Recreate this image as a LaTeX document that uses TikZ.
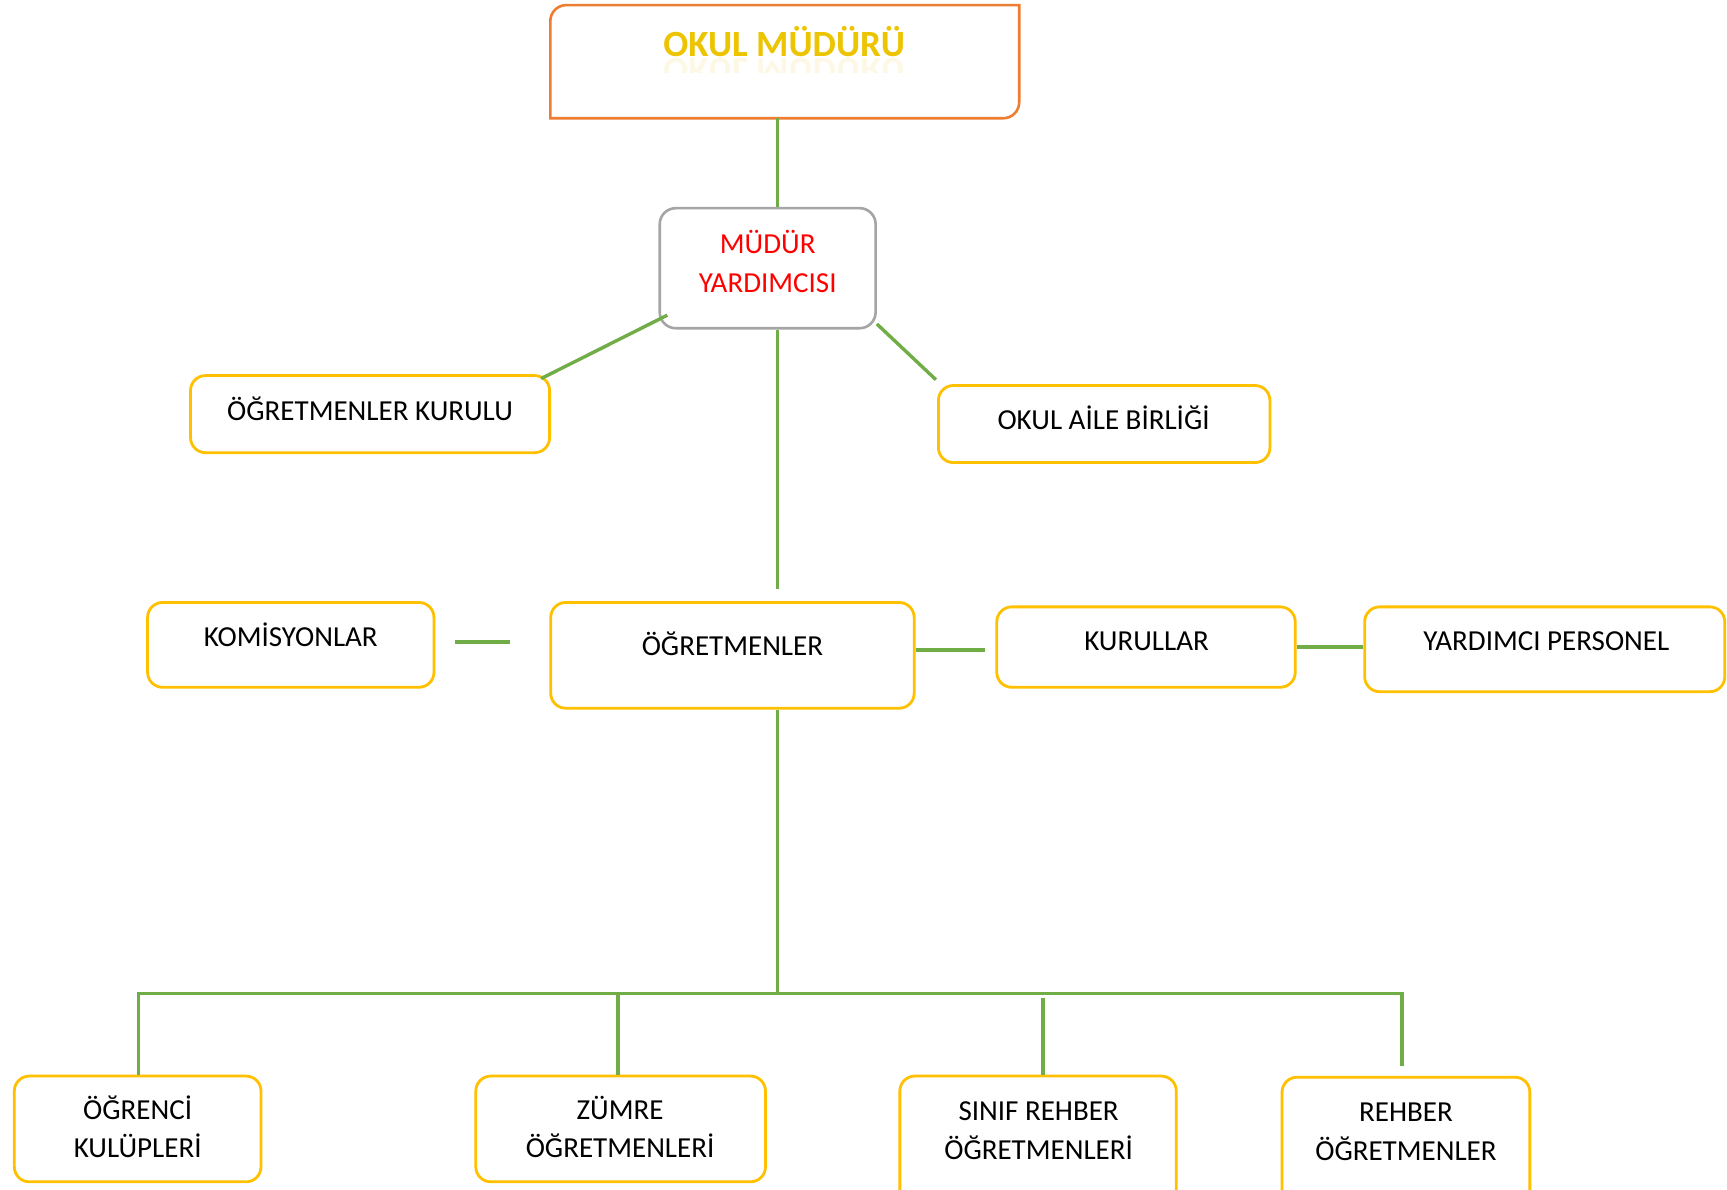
\documentclass[tikz,border=0pt]{standalone}
\usepackage{fontspec}
\setmainfont{Carlito}
\usetikzlibrary{fit,calc}
\definecolor{boxyellow}{HTML}{FFC000}
\definecolor{lineg}{HTML}{70AD47}
\definecolor{omorange}{HTML}{ED7D31}
\definecolor{mygray}{HTML}{A5A5A5}
\definecolor{omtext}{RGB}{236,196,0}
\newcommand\mystrut{\rule[-5pt]{0pt}{19.2pt}}
\begin{document}
\begin{tikzpicture}[x=0.5507pt,y=-0.5507pt,
  ybox/.style={draw=boxyellow, line width=1.4pt, rounded corners=7.5pt, inner sep=0pt},
  gbox/.style={draw=mygray, line width=1.3pt, rounded corners=8pt, inner sep=0pt},
  conn/.style={draw=lineg, line width=1.7pt},
  lbl/.style={inner sep=0pt, font=\fontsize{14.5}{19.4}\selectfont, align=center},
  omfont/.style={inner sep=0pt, anchor=base, font=\fontsize{18.5}{22}\selectfont\bfseries, text=omtext},
]
\path[use as bounding box, fill=white] (0,0) rectangle (1568,1080);
\clip (0,0) rectangle (1568,1080);

% top box
\node[fit={(500,5) (925,107)}, inner sep=0pt] (om) {};
\draw[draw=omorange, line width=1.3pt] (om.south west) -- ([yshift=-8pt]om.north west)
  arc[start angle=180,end angle=90,radius=8pt] -- (om.north east)
  -- ([yshift=8pt]om.south east) arc[start angle=0,end angle=-90,radius=8pt] -- cycle;
\node[omfont] (omt) at (712,51.5) {OKUL MÜDÜRÜ};
\begin{scope}
  \clip (590,52) rectangle (840,66);
  \node[omfont, yscale=-1, opacity=0.1] (omr) at (712,53) {OKUL MÜDÜRÜ};
\end{scope}

% boxes
\node[gbox, fit={(599,189) (795,298)}] (my) {};
\node[lbl, text=red] (myt) at (697,239.3) {\mystrut MÜDÜR\\\mystrut YARDIMCISI};

\node[ybox, fit={(173,341) (499,411)}] (ok) {};
\node[lbl] (okt) at (336,373) {\mystrut ÖĞRETMENLER KURULU};

\node[ybox, fit={(852,350) (1153,420)}] (oab) {};
\node[lbl] (oabt) at (1002,382) {\mystrut OKUL AİLE BİRLİĞİ};

\node[ybox, fit={(134,547) (394,624)}] (kom) {};
\node[lbl] (komt) at (264,579) {\mystrut KOMİSYONLAR};

\node[ybox, fit={(500,547) (830,643)}] (ogr) {};
\node[lbl] (ogrt) at (665,587) {\mystrut ÖĞRETMENLER};

\node[ybox, fit={(905,551) (1176,624)}] (kur) {};
\node[lbl] (kurt) at (1041,582) {\mystrut KURULLAR};

\node[ybox, fit={(1239,551) (1566,628)}] (yp) {};
\node[lbl] (ypt) at (1404,582) {\mystrut YARDIMCI PERSONEL};

\node[ybox, fit={(13,977) (237,1073)}] (ok1) {};
\node[lbl] (ok1t) at (125,1025.3) {\mystrut ÖĞRENCİ\\\mystrut KULÜPLERİ};

\node[ybox, fit={(432,977) (695,1073)}] (zum) {};
\node[lbl] (zumt) at (563,1025.3) {\mystrut ZÜMRE\\\mystrut ÖĞRETMENLERİ};

\node[ybox, fit={(817,977) (1068,1110)}] (sin) {};
\node[lbl] (sint) at (943,1026.4) {\mystrut SINIF REHBER\\\mystrut ÖĞRETMENLERİ};

\node[ybox, fit={(1164,978) (1389,1110)}] (reh) {};
\node[lbl] (reht) at (1276.5,1027.5) {\mystrut REHBER\\\mystrut ÖĞRETMENLER};

% connectors
\coordinate (axis) at (706,0);
\draw[conn] (om.south -| axis) -- (my.north -| axis);
\draw[conn] ([shift={(8,-13)}]my.south west) -- ([shift={(-9,4)}]ok.north east);
\draw[conn] ([shift={(0,-5)}]my.south east) -- ([shift={(-1,-4)}]oab.north west);
\draw[conn] (my.south -| axis) -- ($(ogr.north -| axis)+(0,-11)$);
\coordinate (k1) at (413,583);
\coordinate (k2) at (463,583);
\draw[conn] (k1) -- (k2);
\coordinate (kk) at (894,590);
\draw[conn] (ogr.east |- kk) -- (kk);
\draw[conn] (kur.east) -- (kur.east -| yp.west);
\coordinate (busL) at (126,902);
\coordinate (busR) at (1273,902);
\coordinate (dropR) at (1273,968);
\draw[conn] (ogr.south -| axis) -- (axis |- busL);
\draw[conn] (ok1.north -| busL) -- (busL) -- (busR) -- (dropR);
\coordinate (d2) at (561,902);
\draw[conn] (d2) -- (zum.north -| d2);
\coordinate (d3) at (947,906);
\draw[conn] (d3) -- (sin.north -| d3);
\end{tikzpicture}
\end{document}
